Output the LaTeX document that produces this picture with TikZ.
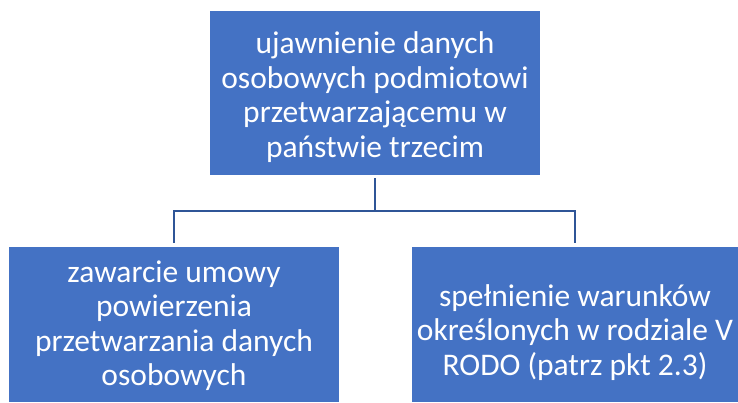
\documentclass[tikz,border=0pt]{standalone}
\usepackage{fontspec}
\setmainfont{Carlito}
\definecolor{boxblue}{HTML}{4472C4}
\definecolor{linkblue}{HTML}{2F5597}
\begin{document}
\begin{tikzpicture}[x=1pt,y=1pt,
  box/.style={rectangle, fill=boxblue, draw=none, inner sep=0pt},
  txt/.style={text=white, align=center, inner sep=0pt, font=\fontsize{31.5}{34.5}\selectfont},
  conn/.style={draw=linkblue, line width=2.6pt}]
\useasboundingbox (0,0) rectangle (738,402);
\node[box, minimum width=330, minimum height=164] (top) at (375,309) {};
\node[box, minimum width=330, minimum height=155] (left) at (174,77.5) {};
\node[box, minimum width=326, minimum height=155] (right) at (575,77.5) {};
\node[txt] (toptxt) at ([yshift=-4pt]top.center)
  {ujawnienie danych\\osobowych podmiotowi\\przetwarzającemu w\\państwie trzecim};
\node[txt] (lefttxt) at ([yshift=-1pt]left.center)
  {zawarcie umowy\\powierzenia\\przetwarzania danych\\osobowych};
\node[txt] (righttxt) at ([yshift=-8pt]right.center)
  {spełnienie warunków\\określonych w rodziale V\\RODO (patrz pkt 2.3)};
\coordinate (bus) at (375,191);
\draw[conn] ([yshift=-3pt]top.south) -- (bus);
\draw[conn] ([yshift=4pt]left.north) |- (bus) -| ([yshift=4pt]right.north);
\end{tikzpicture}
\end{document}
